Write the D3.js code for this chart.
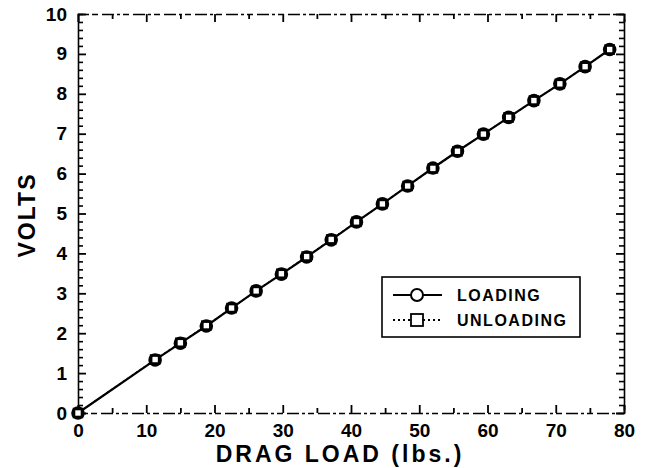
<!DOCTYPE html>
<html>
<head>
<meta charset="utf-8">
<script src="https://cdn.jsdelivr.net/npm/d3@7"></script>
<style>
  body { margin: 0; background: #fff; }
  text { font-family: "Liberation Sans", Arial, sans-serif; font-weight: bold; fill: #000; }
</style>
</head>
<body>
<script>
// values
var loadLbs = [0, 11.3, 15.0, 18.8, 22.5, 26.1, 29.8, 33.5, 37.1, 40.8, 44.6, 48.3, 52.0, 55.6, 59.4, 63.1, 66.8, 70.6, 74.3, 77.9];
var loadingVolts = [0, 1.33, 1.75, 2.18, 2.63, 3.06, 3.48, 3.91, 4.34, 4.79, 5.24, 5.69, 6.14, 6.56, 6.99, 7.41, 7.83, 8.25, 8.68, 9.11];
var unloadingVolts = [0, 1.34, 1.76, 2.19, 2.63, 3.06, 3.49, 3.92, 4.35, 4.79, 5.24, 5.69, 6.13, 6.56, 6.99, 7.41, 7.83, 8.25, 8.68, 9.11];
var xTicks = [0, 10, 20, 30, 40, 50, 60, 70, 80];
var yTicks = [0, 1, 2, 3, 4, 5, 6, 7, 8, 9, 10];
var legendLabels = ["LOADING", "UNLOADING"];

var W = 648, H = 468;
var margin = {left: 78, right: 24, top: 14, bottom: 55};

var svg = d3.select("body").append("svg").attr("width", W).attr("height", H);

var x = d3.scaleLinear().domain([0, 80]).range([margin.left, W - margin.right]);
var y = d3.scaleLinear().domain([0, 10]).range([H - margin.bottom, margin.top]);

var xMinor = d3.range(5, 80, 10);
var yMinor = d3.range(0, 10.01, 0.2).filter(function(v){ return Math.abs(v - Math.round(v)) > 0.01; });

function styleAxis(g, dashed) {
  g.select(".domain").attr("stroke-width", 1.6).attr("stroke-dasharray", dashed ? "12,3,3,3,6,4" : null);
  g.selectAll(".tick line").attr("stroke-width", 1.8);
  g.selectAll("text").style("font-size", "19px").style("font-family", "Liberation Sans, Arial, sans-serif").style("font-weight", "bold");
}

// bottom
var gb = svg.append("g").attr("transform", "translate(0," + y(0) + ")")
  .call(d3.axisBottom(x).tickValues(xTicks).tickSize(-8).tickPadding(11).tickFormat(d3.format("d")));
styleAxis(gb, true);
svg.append("g").attr("transform", "translate(0," + y(0) + ")")
  .call(d3.axisBottom(x).tickValues(xMinor).tickSize(-5).tickFormat(""))
  .call(function(g){ g.select(".domain").remove(); g.selectAll(".tick line").attr("stroke-width", 1.8); });

// top
var gt = svg.append("g").attr("transform", "translate(0," + y(10) + ")")
  .call(d3.axisTop(x).tickValues(xTicks).tickSize(-8).tickFormat(""));
styleAxis(gt, true);
svg.append("g").attr("transform", "translate(0," + y(10) + ")")
  .call(d3.axisTop(x).tickValues(xMinor).tickSize(-5).tickFormat(""))
  .call(function(g){ g.select(".domain").remove(); g.selectAll(".tick line").attr("stroke-width", 1.8); });

// left
var gl = svg.append("g").attr("transform", "translate(" + x(0) + ",0)")
  .call(d3.axisLeft(y).tickValues(yTicks).tickSize(-8).tickPadding(11).tickFormat(d3.format("d")));
styleAxis(gl, false);
svg.append("g").attr("transform", "translate(" + x(0) + ",0)")
  .call(d3.axisLeft(y).tickValues(yMinor).tickSize(-5).tickFormat(""))
  .call(function(g){ g.select(".domain").remove(); g.selectAll(".tick line").attr("stroke-width", 1.6); });

// right
var gr = svg.append("g").attr("transform", "translate(" + x(80) + ",0)")
  .call(d3.axisRight(y).tickValues(yTicks).tickSize(-8).tickFormat(""));
styleAxis(gr, false);
svg.append("g").attr("transform", "translate(" + x(80) + ",0)")
  .call(d3.axisRight(y).tickValues(yMinor).tickSize(-5).tickFormat(""))
  .call(function(g){ g.select(".domain").remove(); g.selectAll(".tick line").attr("stroke-width", 1.6); });

var unloading = loadLbs.map(function(d, i){ return [d, unloadingVolts[i]]; });
var loading = loadLbs.map(function(d, i){ return [d, loadingVolts[i]]; });

var line = d3.line().x(function(d){ return x(d[0]); }).y(function(d){ return y(d[1]); });

svg.append("path").datum(unloading).attr("d", line)
  .attr("fill", "none").attr("stroke", "#000").attr("stroke-width", 1.5).attr("stroke-dasharray", "2,3");
svg.append("path").datum(loading).attr("d", line)
  .attr("fill", "none").attr("stroke", "#000").attr("stroke-width", 2.2);

svg.append("g").selectAll("circle").data(loading).join("circle")
  .attr("cx", function(d){ return x(d[0]); }).attr("cy", function(d){ return y(d[1]); })
  .attr("r", 5.5).attr("fill", "#fff").attr("stroke", "#000").attr("stroke-width", 2.6);
svg.append("g").selectAll("rect").data(unloading).join("rect")
  .attr("x", function(d){ return x(d[0]) - 4; }).attr("y", function(d){ return y(d[1]) - 4; })
  .attr("width", 8).attr("height", 8).attr("fill", "none").attr("stroke", "#000").attr("stroke-width", 2.6);

// axis titles
svg.append("text").attr("x", 340).attr("y", 462).attr("text-anchor", "middle")
  .style("font-size", "23px").style("letter-spacing", "3px").text("DRAG LOAD (lbs.)");
svg.append("text").attr("transform", "translate(35,215) rotate(-90)").attr("text-anchor", "middle")
  .style("font-size", "23px").style("letter-spacing", "2px").text("VOLTS");

// legend
var lg = svg.append("g");
lg.append("rect").attr("x", 382).attr("y", 277).attr("width", 198).attr("height", 60)
  .attr("fill", "#fff").attr("stroke", "#000").attr("stroke-width", 1.6);
var rows = [295, 320];
lg.append("line").attr("x1", 393).attr("x2", 442).attr("y1", rows[0]).attr("y2", rows[0])
  .attr("stroke", "#000").attr("stroke-width", 2);
lg.append("circle").attr("cx", 417).attr("cy", rows[0]).attr("r", 6)
  .attr("fill", "#fff").attr("stroke", "#000").attr("stroke-width", 2);
lg.append("line").attr("x1", 393).attr("x2", 442).attr("y1", rows[1]).attr("y2", rows[1])
  .attr("stroke", "#000").attr("stroke-width", 1.8).attr("stroke-dasharray", "2,3");
lg.append("rect").attr("x", 411).attr("y", rows[1] - 6).attr("width", 12).attr("height", 12)
  .attr("fill", "#fff").attr("stroke", "#000").attr("stroke-width", 1.8);
lg.selectAll("text.lab").data(legendLabels).join("text").attr("class", "lab")
  .attr("x", 457).attr("y", function(d, i){ return rows[i] + 6; })
  .style("font-size", "16px").style("letter-spacing", "1.5px").text(function(d){ return d; });
</script>
</body>
</html>
